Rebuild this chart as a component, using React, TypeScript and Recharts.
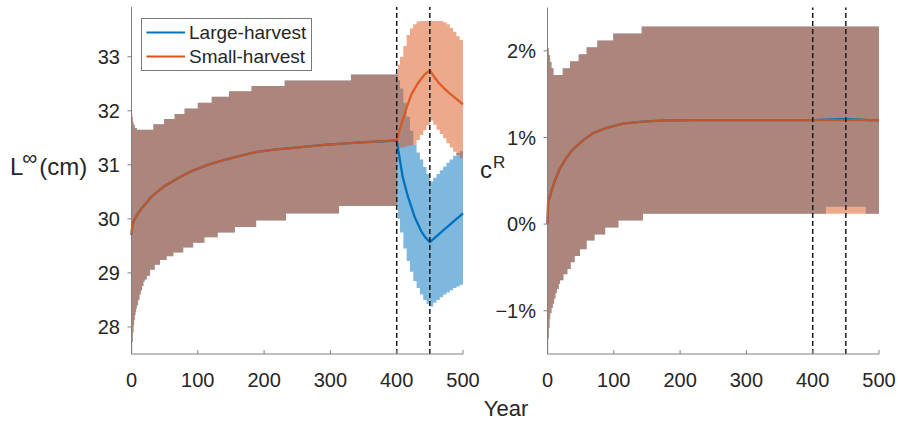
import React from "react";
import { ComposedChart, Area, Line, XAxis, YAxis, ReferenceLine } from "recharts";

const yearTicks = [0, 100, 200, 300, 400, 500];
const lengthTicks = [28, 29, 30, 31, 32, 33];
const rateTicks = [-1, 0, 1, 2];
const markerYears = [400, 450];

// L-infinity: spread shared by both scenarios before harvest starts
const lenBandYears = [0, 1, 2, 3, 4, 5, 6, 7, 8, 10, 12, 14, 16, 18, 20, 23, 28, 33, 35, 43, 49, 53, 63, 65, 78, 80, 93, 100, 110, 121, 130, 147, 156, 181, 188, 231, 233, 313, 331];
const lenBandLo = [27.52, 27.72, 27.9, 28.03, 28.13, 28.22, 28.28, 28.34, 28.4, 28.5, 28.6, 28.68, 28.76, 28.84, 28.88, 28.95, 29.06, 29.06, 29.15, 29.24, 29.24, 29.31, 29.38, 29.38, 29.47, 29.47, 29.56, 29.56, 29.66, 29.66, 29.75, 29.75, 29.85, 29.85, 29.97, 29.97, 30.1, 30.24, 30.24];
const lenBandHi = [31.96, 31.88, 31.8, 31.74, 31.74, 31.68, 31.68, 31.68, 31.65, 31.65, 31.65, 31.65, 31.65, 31.65, 31.65, 31.65, 31.65, 31.75, 31.75, 31.75, 31.85, 31.85, 31.85, 31.94, 31.94, 32.04, 32.04, 32.15, 32.15, 32.26, 32.26, 32.36, 32.36, 32.46, 32.46, 32.56, 32.56, 32.56, 32.67];
const lenMeanYears = [0, 1, 2, 5, 10, 15, 30, 50, 70, 90, 115, 140, 165, 190, 215, 240, 290, 340, 400];
const lenMean = [29.7, 29.85, 29.92, 30.0, 30.1, 30.19, 30.41, 30.61, 30.75, 30.88, 31.0, 31.09, 31.17, 31.24, 31.28, 31.31, 31.37, 31.41, 31.45];

// L-infinity after year 400
const lenPostYears = [400, 402, 405, 410, 415, 420, 425, 430, 435, 440, 445, 450, 455, 460, 465, 470, 475, 480, 485, 490, 495, 500];
const lenLargeLo = [30.24, 30.0, 29.75, 29.45, 29.22, 29.02, 28.85, 28.72, 28.6, 28.5, 28.43, 28.38, 28.45, 28.5, 28.55, 28.6, 28.64, 28.68, 28.72, 28.75, 28.78, 28.8];
const lenLargeHi = [32.67, 32.56, 32.41, 32.15, 31.89, 31.63, 31.37, 31.23, 31.1, 30.96, 30.83, 30.69, 30.76, 30.83, 30.9, 30.97, 31.04, 31.1, 31.17, 31.22, 31.25, 31.28];
const lenSmallLo = [31.3, 31.3, 31.32, 31.33, 31.35, 31.36, 31.37, 31.46, 31.55, 31.64, 31.73, 31.82, 31.74, 31.65, 31.57, 31.49, 31.4, 31.32, 31.24, 31.18, 31.12, 31.06];
const lenSmallHi = [32.67, 32.85, 33.0, 33.2, 33.4, 33.52, 33.6, 33.65, 33.66, 33.66, 33.66, 33.66, 33.66, 33.66, 33.66, 33.64, 33.6, 33.53, 33.46, 33.38, 33.31, 33.25];
const lenLargeMeanYears = [404, 409, 417, 427, 437, 443, 450, 475, 500];
const lenLargeMean = [31.15, 30.78, 30.41, 30.04, 29.77, 29.66, 29.57, 29.84, 30.1];
const lenSmallMeanYears = [406, 414, 422, 432, 442, 450, 457, 464, 472, 479, 490, 500];
const lenSmallMean = [31.71, 32.02, 32.3, 32.51, 32.67, 32.75, 32.62, 32.51, 32.41, 32.33, 32.22, 32.12];

// c^R (percent): shared spread before year 400
const rateBandYears = [0, 1, 2, 3, 4, 6, 8, 9, 10, 12, 14, 17, 19, 23, 24, 30, 34, 35, 41, 47, 49, 59, 71, 75, 87, 99, 107, 142, 144];
const rateBandLo = [-1.49, -1.32, -1.2, -1.1, -1.03, -0.97, -0.92, -0.92, -0.86, -0.8, -0.75, -0.69, -0.65, -0.65, -0.58, -0.52, -0.52, -0.44, -0.37, -0.37, -0.29, -0.19, -0.12, -0.12, -0.04, -0.04, 0.04, 0.04, 0.12];
const rateBandHi = [2.03, 2.03, 1.95, 1.95, 1.87, 1.8, 1.8, 1.72, 1.72, 1.72, 1.72, 1.72, 1.72, 1.8, 1.8, 1.8, 1.88, 1.88, 1.88, 1.96, 1.96, 2.04, 2.04, 2.12, 2.12, 2.2, 2.2, 2.28, 2.28];
const rateMeanYears = [0, 1, 3, 6, 11, 18, 28, 38, 54, 69, 89, 114, 139, 170, 220, 400];
const rateMean = [0, 0.27, 0.3, 0.38, 0.5, 0.63, 0.76, 0.86, 0.97, 1.05, 1.11, 1.16, 1.18, 1.195, 1.2, 1.2];

// c^R after year 400
const ratePostYears = [400, 420, 480, 500];
const rateLargeLo = [0.12, 0.2, 0.12, 0.12];
const rateSmallLo = [0.12, 0.12, 0.12, 0.12];
const ratePostHi = [2.28, 2.28, 2.28, 2.28];
const rateLargeMeanYears = [420, 445, 470, 485, 500];
const rateLargeMean = [1.205, 1.21, 1.205, 1.2, 1.2];
const rateSmallMeanYears = [450, 500];
const rateSmallMean = [1.2, 1.2];

const BLUE = "#0072bd";
const ORANGE = "#d95319";
const AXIS = "#808080";
const TEXT = "#262626";
const FONT = "'Liberation Sans', Arial, sans-serif";

const band = (years: number[], lo: number[], hi: number[]) =>
  years.map((year, i) => ({ year, range: [lo[i], hi[i]] }));
const series = (years: number[], vals: number[]) =>
  years.map((year, i) => ({ year, value: vals[i] }));

const lenLargeBand = [...band(lenBandYears, lenBandLo, lenBandHi), ...band(lenPostYears, lenLargeLo, lenLargeHi)];
const lenSmallBand = [...band(lenBandYears, lenBandLo, lenBandHi), ...band(lenPostYears, lenSmallLo, lenSmallHi)];
const lenLargeLine = [...series(lenMeanYears, lenMean), ...series(lenLargeMeanYears, lenLargeMean)];
const lenSmallLine = [...series(lenMeanYears, lenMean), ...series(lenSmallMeanYears, lenSmallMean)];

const rateLargeBand = [...band(rateBandYears, rateBandLo, rateBandHi), ...band(ratePostYears, rateLargeLo, ratePostHi)];
const rateSmallBand = [...band(rateBandYears, rateBandLo, rateBandHi), ...band(ratePostYears, rateSmallLo, ratePostHi)];
const rateLargeLine = [...series(rateMeanYears, rateMean), ...series(rateLargeMeanYears, rateLargeMean)];
const rateSmallLine = [...series(rateMeanYears, rateMean), ...series(rateSmallMeanYears, rateSmallMean)];

const tickStyle = { fontSize: 20, fill: TEXT, fontFamily: FONT };

function Panel(props: any) {
  const { left, width, margin, domain, ticks, fmt, large, small, largeLine, smallLine } = props;
  return (
    <div style={{ position: "absolute", left, top: 0 }}>
      <ComposedChart width={width} height={423} margin={margin}>
        <XAxis
          dataKey="year"
          type="number"
          domain={[0, 500]}
          ticks={yearTicks}
          height={30}
          tick={tickStyle}
          tickSize={-4}
          tickMargin={23}
          stroke={AXIS}
          allowDuplicatedCategory={false}
        />
        <YAxis
          type="number"
          domain={domain}
          ticks={ticks}
          width={60}
          tick={tickStyle}
          tickSize={4}
          tickMargin={7.5}
          tickFormatter={fmt}
          stroke={AXIS}
          allowDataOverflow
        />
        <Area data={large} dataKey="range" type="stepAfter" stroke="none" fill={BLUE} fillOpacity={0.5} isAnimationActive={false} />
        <Line data={largeLine} dataKey="value" type="linear" stroke={BLUE} strokeWidth={2.3} dot={false} isAnimationActive={false} />
        <Area data={small} dataKey="range" type="stepAfter" stroke="none" fill={ORANGE} fillOpacity={0.5} isAnimationActive={false} />
        <Line data={smallLine} dataKey="value" type="linear" stroke={ORANGE} strokeOpacity={0.88} strokeWidth={2.3} dot={false} isAnimationActive={false} />
        {markerYears.map((x) => (
          <ReferenceLine key={x} x={x} stroke="#1a1a1a" strokeWidth={1.5} strokeDasharray="5 3" />
        ))}
      </ComposedChart>
    </div>
  );
}

const pct = (v: number) => (v < 0 ? `\u2212${-v}%` : `${v}%`);

export default function App() {
  return (
    <div style={{ position: "absolute", left: 0, top: 0, width: 898, height: 423, background: "#fff", fontFamily: FONT }}>
      <Panel
        left={0}
        width={480}
        margin={{ top: 7, right: 17, bottom: 39, left: 71.5 }}
        domain={[27.5, 33.92]}
        ticks={lengthTicks}
        fmt={(v: number) => `${v}`}
        large={lenLargeBand}
        small={lenSmallBand}
        largeLine={lenLargeLine}
        smallLine={lenSmallLine}
      />
      <Panel
        left={480}
        width={418}
        margin={{ top: 7.5, right: 19, bottom: 39, left: 7.5 }}
        domain={[-1.5, 2.5]}
        ticks={rateTicks}
        fmt={pct}
        large={rateLargeBand}
        small={rateSmallBand}
        largeLine={rateLargeLine}
        smallLine={rateSmallLine}
      />
      <svg width={898} height={423} style={{ position: "absolute", left: 0, top: 0, pointerEvents: "none" }} fontFamily={FONT}>
        <text x={10} y={175} fontSize={24} fill={TEXT}>
          L<tspan fontSize={21} dy={-10} dx={-1}>∞</tspan>
          <tspan dy={10} dx={2}>(cm)</tspan>
        </text>
        <text x={480} y={178} fontSize={24} fill={TEXT}>
          c<tspan fontSize={17} dy={-10} dx={1}>R</tspan>
        </text>
        <text x={506} y={416} fontSize={22} fill={TEXT} textAnchor="middle">Year</text>
        <rect x={141.5} y={18.5} width={170} height={52} fill="#fff" stroke="#7a7a7a" strokeWidth={1} />
        <line x1={146.5} x2={185} y1={32.5} y2={32.5} stroke={BLUE} strokeWidth={2} />
        <line x1={146.5} x2={185} y1={56.5} y2={56.5} stroke={ORANGE} strokeWidth={2} />
        <text x={189} y={32.5} dy="0.35em" fontSize={19} fill={TEXT}>Large-harvest</text>
        <text x={189} y={56.5} dy="0.35em" fontSize={19} fill={TEXT}>Small-harvest</text>
      </svg>
    </div>
  );
}
